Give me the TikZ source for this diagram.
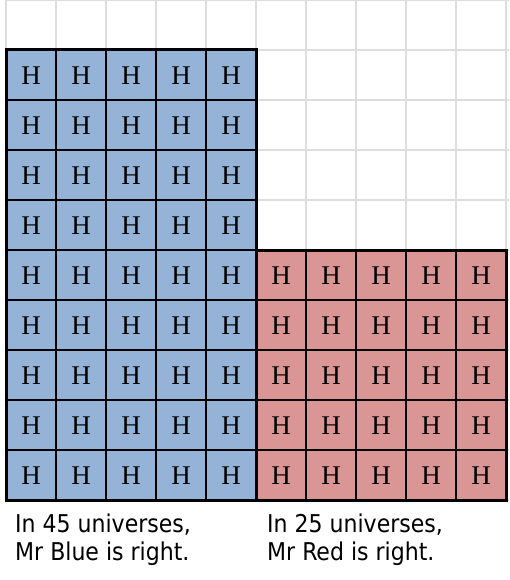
\documentclass[tikz,border=0pt]{standalone}
\usepackage{fontspec}
\setmainfont{Liberation Serif}
\newfontfamily\labelfont{DejaVu Sans Condensed}
\definecolor{cellblue}{HTML}{95B3D7}
\definecolor{cellred}{HTML}{DA9694}
\definecolor{gridgray}{HTML}{DDDDDD}
\begin{document}
\begin{tikzpicture}[x=1pt,y=-1pt,
  lightgrid/.style={draw=gridgray,line width=1.2pt},
  cellline/.style={draw=black,line width=1.2pt},
  border/.style={draw=black,line width=3pt},
  hcell/.style={font=\fontsize{27}{27}\selectfont,inner sep=0pt},
  caption/.style={font=\labelfont\fontsize{24.5}{28}\selectfont,align=left,anchor=base west,inner sep=0pt}]
\useasboundingbox (0,0) rectangle (509,580);
% light spreadsheet grid
\foreach \i in {0,...,10} \draw[lightgrid] (6+50*\i,0) -- (6+50*\i,502);
\foreach \j in {0,...,10} \draw[lightgrid] (6,50*\j) -- (509,50*\j);
% coloured regions
\fill[cellblue] (6,50) rectangle (256,500);
\fill[cellred] (256,250) rectangle (506,500);
\foreach \i in {1,...,4} \draw[cellline] (6+50*\i,50) -- (6+50*\i,500);
\foreach \j in {2,...,9} \draw[cellline] (6,50*\j) -- (256,50*\j);
\foreach \i in {6,...,9} \draw[cellline] (6+50*\i,250) -- (6+50*\i,500);
\foreach \j in {6,...,9} \draw[cellline] (256,50*\j) -- (506,50*\j);
\draw[border] (6,50) rectangle (256,500);
\draw[border] (256,250) rectangle (506,500);
% letters
\foreach \i in {0,...,4} \foreach \j in {1,...,9}
  \node[hcell] (b\i\j) at (31+50*\i,75+50*\j-50+1) {H};
\foreach \i in {5,...,9} \foreach \j in {5,...,9}
  \node[hcell] (r\i\j) at (31+50*\i,75+50*\j-50+1) {H};
% captions
\node[caption] (capblue) at (15,560) {In 45 universes,\\Mr Blue is right.};
\node[caption] (capred) at (267,560) {In 25 universes,\\Mr Red is right.};
\end{tikzpicture}
\end{document}
